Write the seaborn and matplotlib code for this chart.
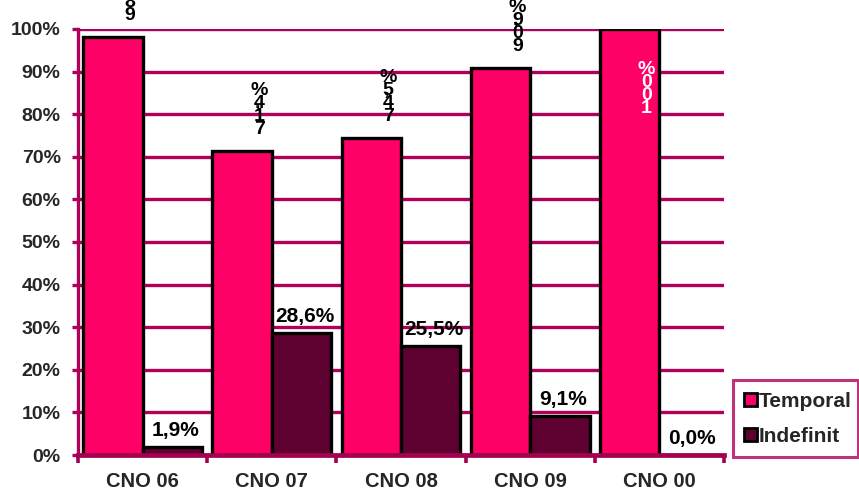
import matplotlib
matplotlib.use("Agg")
import matplotlib.pyplot as plt
import seaborn as sns
import pandas as pd
from matplotlib.patches import Patch

# ---- data ----
categories = ["CNO 06", "CNO 07", "CNO 08", "CNO 09", "CNO 00"]
series = ["Temporal", "Indefinit"]
temporal = [98.1, 71.4, 74.5, 90.9, 100.0]
indefinit = [1.9, 28.6, 25.5, 9.1, 0.0]
yticks = [0, 10, 20, 30, 40, 50, 60, 70, 80, 90, 100]
ytick_labels = [f"{v}%" for v in yticks]

PINK = "#FF0066"
DARK = "#5E0030"
MAROON = "#B0005A"

sns.set_theme(style="white")
plt.rcParams['font.family'] = ['Liberation Sans', 'DejaVu Sans']
plt.rcParams['font.weight'] = 'bold'

df = pd.DataFrame({
    "cat": categories * 2,
    "serie": [series[0]] * len(categories) + [series[1]] * len(categories),
    "val": temporal + indefinit,
})

fig = plt.figure(figsize=(8.59, 4.88), dpi=100)
ax = fig.add_axes([78 / 859, 1 - 455 / 488, (724 - 78) / 859, (455 - 29) / 488])
ax.set_axisbelow(True)
sns.barplot(data=df, x="cat", y="val", hue="serie", order=categories,
            hue_order=series, palette=[PINK, DARK], width=0.92, gap=0,
            edgecolor="black", linewidth=2.4, ax=ax, legend=False,
            saturation=1, errorbar=None)

ax.set_xlim(-0.5, len(categories) - 0.5)
ax.set_ylim(0, 100)
ax.set_yticks(yticks)
ax.set_yticklabels(ytick_labels, fontsize=14, fontweight='bold')
ax.set_xticks(range(len(categories)))
ax.set_xticklabels(categories, fontsize=14.5, fontweight='bold')
ax.set_xticks([i - 0.5 for i in range(len(categories) + 1)], minor=True)
ax.set_xlabel("")
ax.set_ylabel("")

ax.yaxis.grid(True, color=MAROON, linewidth=2.4)
ax.xaxis.grid(False)
for s in ["top", "right"]:
    ax.spines[s].set_visible(False)
ax.spines["left"].set_color(MAROON)
ax.spines["left"].set_linewidth(2.4)
ax.spines["bottom"].set_color("#A3004F")
ax.spines["bottom"].set_linewidth(3.4)

ax.tick_params(axis='y', which='major', length=4.5, width=2.4, color=MAROON,
               direction='out', pad=8, left=True)
ax.tick_params(axis='x', which='major', length=0, pad=12, bottom=True)
ax.tick_params(axis='x', which='minor', length=5.5, width=2.6, color="#A3004F",
               direction='out', bottom=True)

# ---- labels ----
def fmt(v):
    return f"{v:.1f}%".replace(".", ",")

# Temporal: stacked characters (reading bottom to top)
for bar, v in zip(ax.containers[0], temporal):
    xc = bar.get_x() + bar.get_width() / 2
    h = bar.get_height()
    text = fmt(v) if v < 100 else f"{v:.0f}%"
    if v >= 100:
        dy, color = -88, "white"
    else:
        dy, color = 13, "black"
    for ch in text:
        if ch == ",":
            ax.annotate(ch, xy=(xc, h), xytext=(15, dy), textcoords='offset pixels',
                        ha='center', va='bottom', fontsize=14, fontweight='bold',
                        color=color, annotation_clip=False)
            continue
        ax.annotate(ch, xy=(xc, h), xytext=(17, dy), textcoords='offset pixels',
                    ha='center', va='bottom', fontsize=14, fontweight='bold',
                    color=color, annotation_clip=False)
        dy += 13

# Indefinit: normal labels above bars
for bar, v in zip(ax.containers[1], indefinit):
    xc = bar.get_x() + bar.get_width() / 2
    ax.annotate(fmt(v), xy=(xc, bar.get_height()), xytext=(3, 7),
                textcoords='offset pixels', ha='center', va='bottom',
                fontsize=15, fontweight='bold', color='black',
                annotation_clip=False)

# ---- legend ----
handles = [Patch(facecolor=PINK, edgecolor='black', linewidth=2),
           Patch(facecolor=DARK, edgecolor='black', linewidth=2)]
leg = fig.legend(handles=handles, labels=series, loc='lower left',
                 bbox_to_anchor=(733 / 859, 1 - 457 / 488, 125 / 859, 77 / 488),
                 mode='expand', frameon=True,
                 fancybox=False, edgecolor=MAROON, handlelength=0.6,
                 handleheight=0.6, handletextpad=0.1, borderpad=0.55,
                 labelspacing=0.75, borderaxespad=0,
                 prop={'weight': 'bold', 'size': 15})
leg.get_frame().set_linewidth(2.2)

fig.savefig("out.png", dpi=100)
